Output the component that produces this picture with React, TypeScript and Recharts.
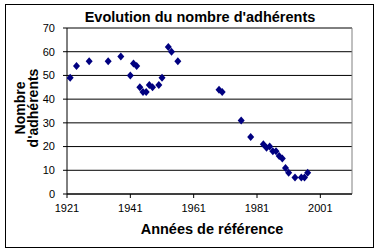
import React from 'react'
import { ScatterChart, Scatter, XAxis, YAxis, CartesianGrid, ReferenceLine } from 'recharts'

const years = [
  1922, 1924, 1928, 1934, 1938, 1941, 1942, 1943, 1944, 1945, 1946, 1947, 1948, 1950, 1951, 1953, 1954, 1956,
  1969, 1970, 1976, 1979, 1983, 1984, 1985, 1986, 1987, 1988, 1989, 1990, 1991, 1993, 1995, 1996, 1997,
]
const members = [
  49, 54, 56, 56, 58, 50, 55, 54, 45, 43, 43, 46, 45, 46, 49, 62, 60, 56,
  44, 43, 31, 24, 21, 19.5, 20, 18, 18, 16, 15, 11, 9, 7, 7, 7, 9,
]
const xTicks = [1921, 1941, 1961, 1981, 2001]
const yTicks = [0, 10, 20, 30, 40, 50, 60, 70]

const data = years.map((year, i) => ({ year, members: members[i] }))

const font = 'Arial, "Liberation Sans", sans-serif'

function Diamond(props: any) {
  const { cx, cy } = props
  if (cx == null || cy == null) return null
  return (
    <polygon
      points={`${cx},${cy - 4} ${cx + 3.5},${cy} ${cx},${cy + 4} ${cx - 3.5},${cy}`}
      fill="#000080"
    />
  )
}

export default function App() {
  return (
    <div style={{ position: 'absolute', left: 0, top: 0, width: 380, height: 250, background: '#fff', fontFamily: font }}>
      <div
        style={{
          position: 'absolute',
          left: 5,
          top: 4,
          width: 367,
          height: 242,
          border: '1px solid #000',
        }}
      />
      <div
        style={{
          position: 'absolute',
          left: 0,
          width: 400,
          top: 9,
          textAlign: 'center',
          fontSize: 14.5,
          fontWeight: 'bold',
        }}
      >
        Evolution du nombre d'adhérents
      </div>
      <div
        style={{
          position: 'absolute',
          left: 28 - 60,
          top: 108 - 14,
          width: 120,
          height: 28,
          transform: 'rotate(-90deg)',
          textAlign: 'center',
          fontSize: 14,
          fontWeight: 'bold',
          lineHeight: '13px',
        }}
      >
        Nombre
        <br />
        d'adhérents
      </div>
      <div
        style={{
          position: 'absolute',
          left: 112,
          width: 200,
          top: 221,
          textAlign: 'center',
          fontSize: 14.5,
          fontWeight: 'bold',
        }}
      >
        Années de référence
      </div>
      <div style={{ position: 'absolute', left: 0, top: 0 }}>
        <ScatterChart width={380} height={250} margin={{ top: 28, right: 28, left: 0, bottom: 0 }}>
          <CartesianGrid vertical={false} stroke="#000" strokeWidth={1} />
          <XAxis
            type="number"
            dataKey="year"
            domain={[1921, 2011]}
            ticks={xTicks}
            allowDataOverflow
            height={56}
            tickSize={4}
            tickMargin={6}
            stroke="#000"
            tick={{ fontSize: 11, fill: '#000', fontFamily: font }}
          />
          <YAxis
            type="number"
            dataKey="members"
            domain={[0, 70]}
            ticks={yTicks}
            width={67}
            tickSize={4}
            tickMargin={8}
            stroke="#000"
            tick={{ fontSize: 11, fill: '#000', fontFamily: font }}
          />
          <ReferenceLine y={70} stroke="#808080" />
          <ReferenceLine x={2011} stroke="#808080" />
          <Scatter data={data} shape={<Diamond />} isAnimationActive={false} />
        </ScatterChart>
      </div>
    </div>
  )
}
